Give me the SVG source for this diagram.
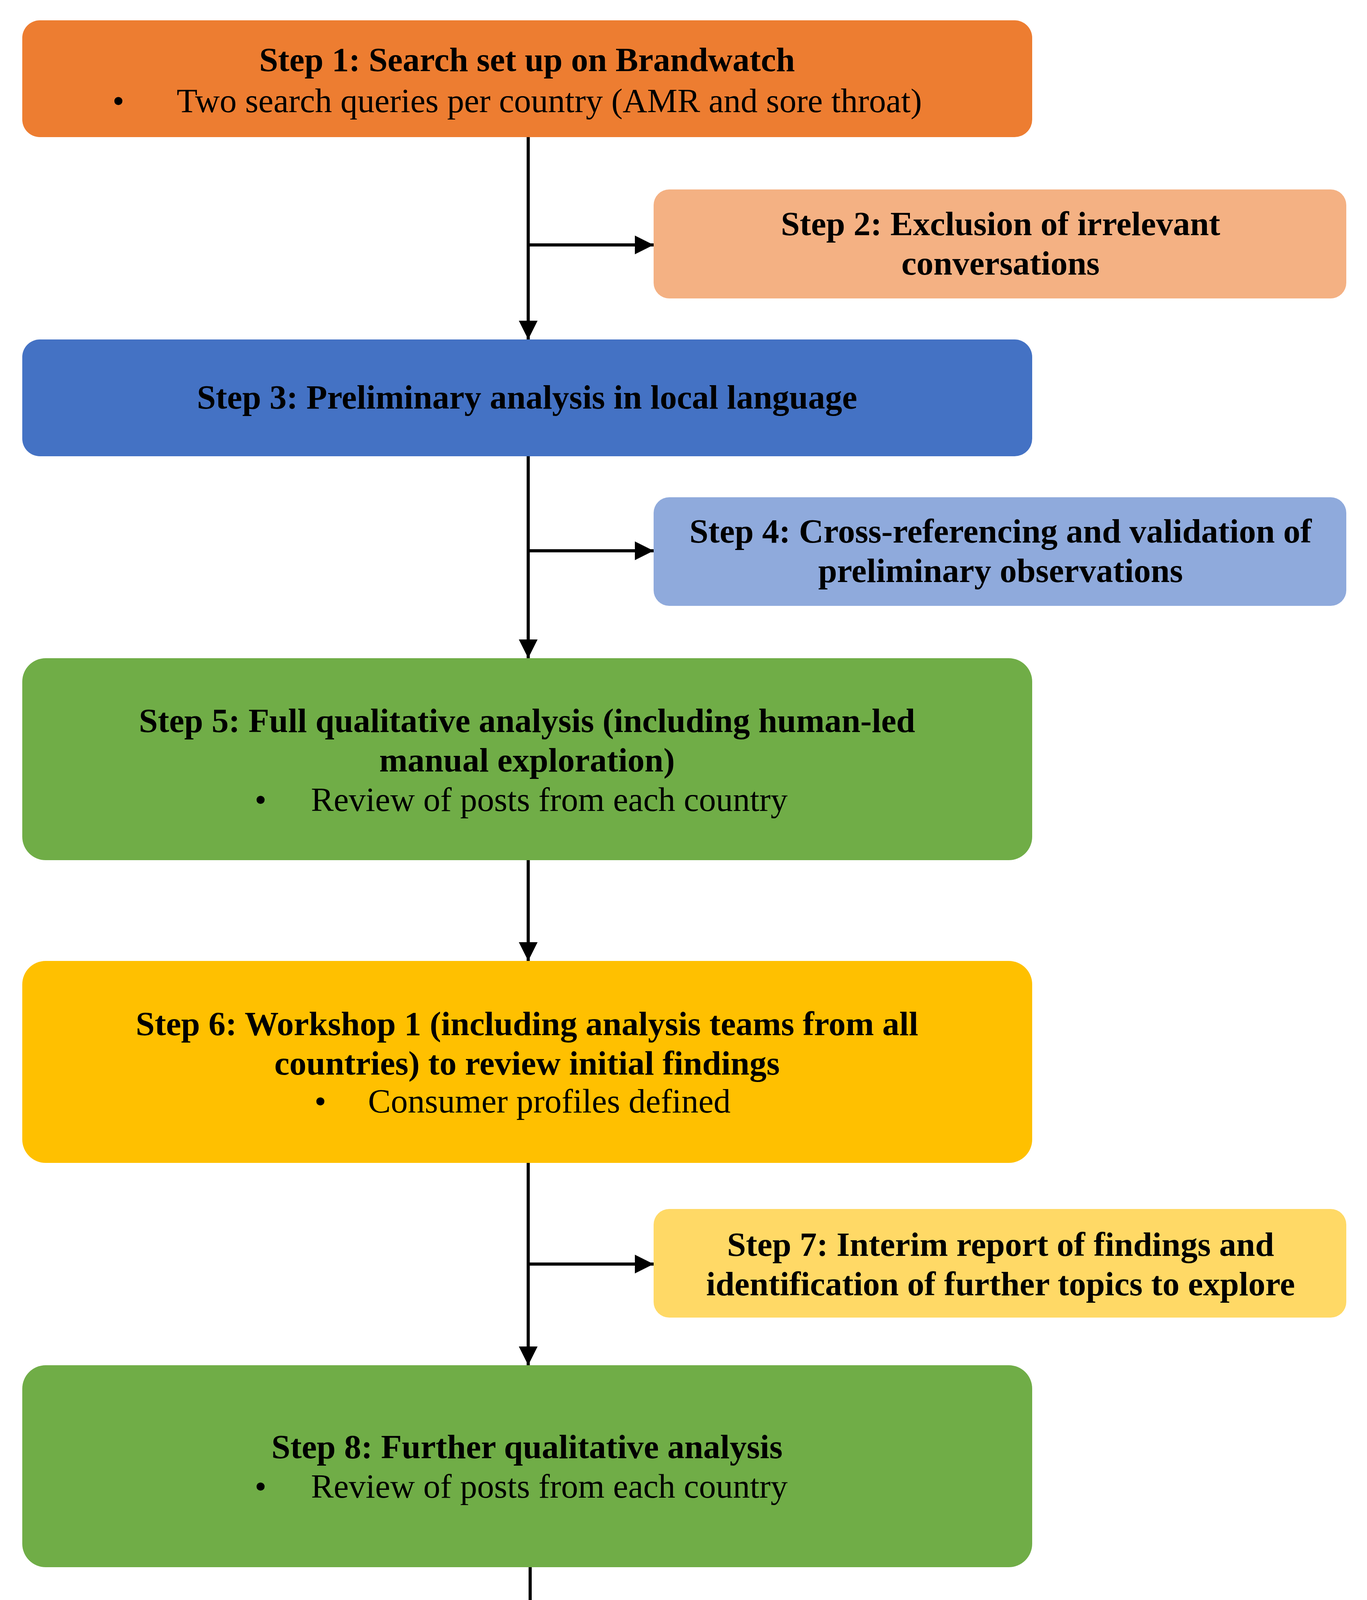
<svg xmlns="http://www.w3.org/2000/svg" width="3499" height="6328" viewBox="0 0 3499 6328">
<defs>
<marker id="ah" markerWidth="6" markerHeight="6" refX="6" refY="3" orient="auto" markerUnits="strokeWidth"><path d="M0,0 L6,3 L0,6 Z" fill="#000"/></marker>
<style>
text{font-family:"Liberation Serif","DejaVu Serif",serif;font-size:87px;fill:#000;text-anchor:middle}
.b{font-weight:bold}
.c{stroke:#000;stroke-width:8;fill:none}
</style>
</defs>
<rect width="3499" height="6328" fill="#fff"/>
<g id="connectors">
<path class="c" d="M1352,351 V869" marker-end="url(#ah)"/>
<path class="c" d="M1352,627 H1673" marker-end="url(#ah)"/>
<path class="c" d="M1352,1168 V1685" marker-end="url(#ah)"/>
<path class="c" d="M1352,1410 H1673" marker-end="url(#ah)"/>
<path class="c" d="M1352,2202 V2460" marker-end="url(#ah)"/>
<path class="c" d="M1352,2977 V3495" marker-end="url(#ah)"/>
<path class="c" d="M1352,3236 H1673" marker-end="url(#ah)"/>
<path class="c" d="M1357,4012 V4270" marker-end="url(#ah)"/>
<path class="c" d="M1352,4787 V5042 H1673" marker-end="url(#ah)"/>
<path class="c" d="M2561,5183 V5410" marker-end="url(#ah)"/>
<path class="c" d="M2561,5688 V5915" marker-end="url(#ah)"/>
</g>
<g id="step1"><rect x="57" y="52" width="2585" height="299" rx="45" fill="#ED7D31"/>
<text class="b" x="1349" y="182">Step 1: Search set up on Brandwatch</text>
<text x="303" y="287">•</text><text x="1406" y="287">Two search queries per country (AMR and sore throat)</text></g>
<g id="step2"><rect x="1673" y="485" width="1773" height="279" rx="40" fill="#F4B183"/>
<text class="b" x="2561" y="602">Step 2: Exclusion of irrelevant</text>
<text class="b" x="2561" y="703">conversations</text></g>
<g id="step3"><rect x="57" y="869" width="2585" height="299" rx="45" fill="#4472C4"/>
<text class="b" x="1349" y="1046">Step 3: Preliminary analysis in local language</text></g>
<g id="step4"><rect x="1673" y="1273" width="1773" height="278" rx="40" fill="#8FAADC"/>
<text class="b" x="2561" y="1389">Step 4: Cross-referencing and validation of</text>
<text class="b" x="2561" y="1490">preliminary observations</text></g>
<g id="step5"><rect x="57" y="1685" width="2585" height="517" rx="60" fill="#70AD47"/>
<text class="b" x="1349" y="1874">Step 5: Full qualitative analysis (including human-led</text>
<text class="b" x="1349" y="1975">manual exploration)</text>
<text x="667" y="2076">•</text><text x="1406" y="2076">Review of posts from each country</text></g>
<g id="step6"><rect x="57" y="2460" width="2585" height="517" rx="60" fill="#FFC000"/>
<text class="b" x="1349" y="2650">Step 6: Workshop 1 (including analysis teams from all</text>
<text class="b" x="1349" y="2751">countries) to review initial findings</text>
<text x="820" y="2848">•</text><text x="1406" y="2848">Consumer profiles defined</text></g>
<g id="step7"><rect x="1673" y="3095" width="1773" height="278" rx="40" fill="#FFD966"/>
<text class="b" x="2561" y="3215">Step 7: Interim report of findings and</text>
<text class="b" x="2561" y="3316">identification of further topics to explore</text></g>
<g id="step8"><rect x="57" y="3495" width="2585" height="517" rx="60" fill="#70AD47"/>
<text class="b" x="1349" y="3733">Step 8: Further qualitative analysis</text>
<text x="667" y="3834">•</text><text x="1406" y="3834">Review of posts from each country</text></g>
<g id="step9"><rect x="57" y="4270" width="2585" height="517" rx="60" fill="#FFC000"/>
<text class="b" x="1349" y="4460">Step 9: Workshop 2 (including analysis teams from all</text>
<text class="b" x="1349" y="4561">countries) to review additional findings</text>
<text x="477" y="4658">•</text><text x="1406" y="4658">Further characterisation of consumer profiles</text></g>
<g id="step10"><rect x="1673" y="4905" width="1773" height="278" rx="40" fill="#FFD966"/>
<text class="b" x="2561" y="5074">Step 10: Final report of findings</text></g>
<g id="step11"><rect x="1673" y="5410" width="1773" height="278" rx="40" fill="#FFD966"/>
<text class="b" x="2561" y="5530">Step 11: Global pharmacist workshop to</text>
<text class="b" x="2561" y="5631">validate consumer profiles</text></g>
<g id="step12"><rect x="1673" y="5915" width="1773" height="375" rx="45" fill="#FFD966"/>
<text class="b" x="2561" y="6035">Step 12: Generation of strategic</text>
<text class="b" x="2561" y="6136">recommendations based on report</text>
<text class="b" x="2561" y="6233">findings</text></g>
</svg>
